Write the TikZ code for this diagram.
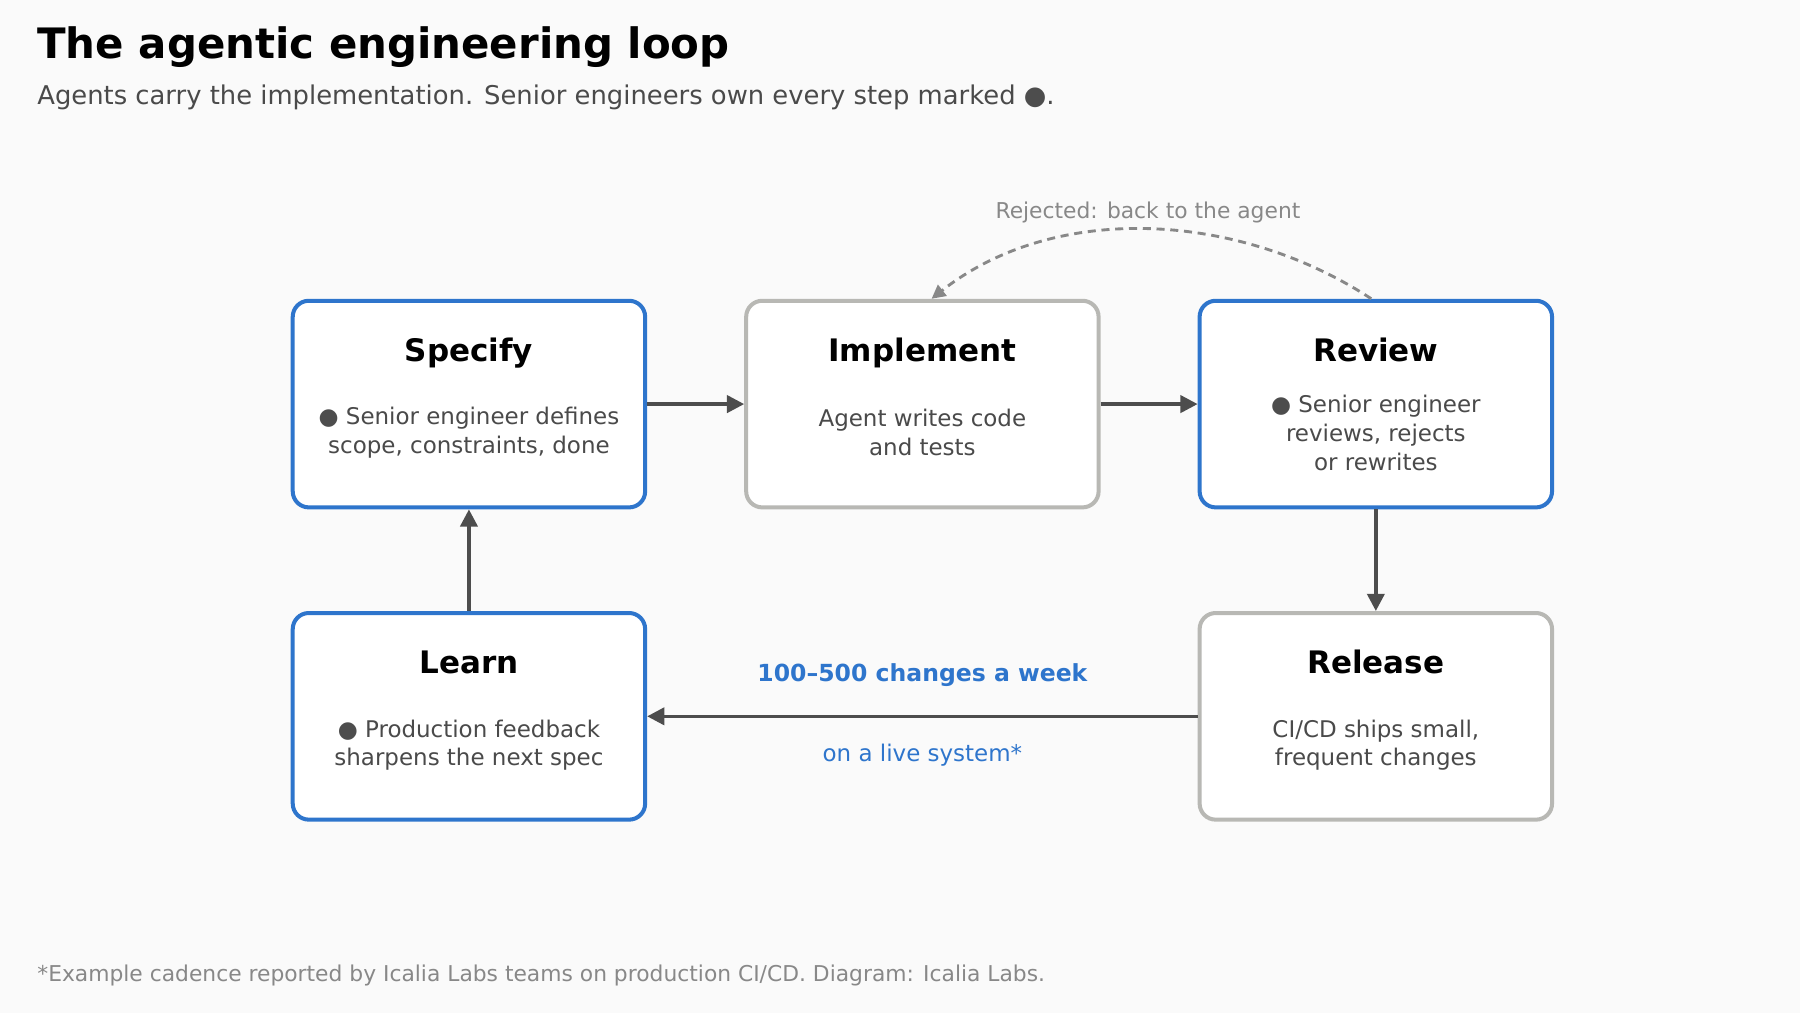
\documentclass[tikz,border=0pt]{standalone}
\usepackage{fontspec}
\setmainfont{DejaVu Sans}
\usetikzlibrary{arrows.meta}
\usetikzlibrary{positioning}
\definecolor{bgcol}{HTML}{FAFAFA}
\definecolor{ownblue}{HTML}{2E75CC}
\definecolor{agentgray}{HTML}{B8B8B4}
\definecolor{arrowgray}{HTML}{4D4D4D}
\definecolor{textgray}{HTML}{4A4A4A}
\definecolor{notegray}{HTML}{888888}
\tikzset{
  loopbox/.style={draw, line width=3.5pt, rounded corners=14pt, fill=white,
    minimum width=307pt, minimum height=180pt},
  owned/.style={loopbox, draw=ownblue},
  agent/.style={loopbox, draw=agentgray},
  boxtitle/.style={font=\fontsize{27}{30}\selectfont\bfseries, text height=20pt, text depth=6pt},
  boxbody/.style={font=\fontsize{20}{25}\selectfont, text=textgray, align=center},
  flow/.style={-{Triangle[length=15pt,width=15pt]}, line width=3pt, draw=arrowgray},
}
\begin{document}
\begin{tikzpicture}[x=1pt,y=-1pt]
\fill [bgcol] (0,0) rectangle (1568,882);
\useasboundingbox (0,0) rectangle (1568,882);

%% title
\node [anchor=west, font=\fontsize{36.5}{40}\selectfont\bfseries] at (29,41) {The agentic engineering loop};
\node [anchor=west, font=\fontsize{22.5}{26}\selectfont, text=textgray] at (29,85) {Agents carry the implementation. Senior engineers own every step marked \textcolor{arrowgray}{●}.};

%% boxes
\node [owned] (specify) at (408.5,352) {};
\node [agent] (implement) at (803.5,352) {};
\node [owned] (review) at (1198.5,352) {};
\node [owned] (learn) at (408.5,624) {};
\node [agent] (release) at (1198.5,624) {};

% titles and texts
\node [boxtitle] at (408.5,308) {Specify};
\node [boxbody] at (408.5,377) {\textcolor{arrowgray}{●} Senior engineer defines\\scope, constraints, done};
\node [boxtitle] at (803.5,308) {Implement};
\node [boxbody] at (803.5,377) {Agent writes code\\and tests};
\node [boxtitle] at (1198.5,308) {Review};
\node [boxbody] at (1198.5,377) {\textcolor{arrowgray}{●} Senior engineer\\reviews, rejects\\or rewrites};
\node [boxtitle] at (408.5,580) {Learn};
\node [boxbody] at (408.5,649) {\textcolor{arrowgray}{●} Production feedback\\sharpens the next spec};
\node [boxtitle] at (1198.5,580) {Release};
\node [boxbody] at (1198.5,649) {CI/CD ships small,\\frequent changes};

%% arrows
\draw [flow] (specify) -- (implement);
\draw [flow] (implement) -- (review);
\draw [flow] (review) -- (release);
\draw [flow] (release) -- (learn);
\draw [flow] (learn) -- (specify);
\draw [-{Triangle[length=12pt,width=12pt]}, line width=2.5pt, draw=notegray, dash pattern=on 7pt off 5pt]
  ([xshift=-4pt]review.north) .. controls (1080,185) and (920,175) .. ([xshift=8pt]implement.north);

%% labels
\node [font=\fontsize{19}{22}\selectfont, text=notegray] (rejected) at (1000,185) {Rejected: back to the agent};
\node [font=\fontsize{20.5}{24}\selectfont\bfseries, text=ownblue] (volume) at (803.5,588) {100–500 changes a week};
\node [font=\fontsize{20}{24}\selectfont, text=ownblue] (scope) at (803.5,658) {on a live system*};
\node [anchor=west, font=\fontsize{19}{22}\selectfont, text=notegray] (footnote) at (29,850) {*Example cadence reported by Icalia Labs teams on production CI/CD. Diagram: Icalia Labs.};
\end{tikzpicture}
\end{document}
